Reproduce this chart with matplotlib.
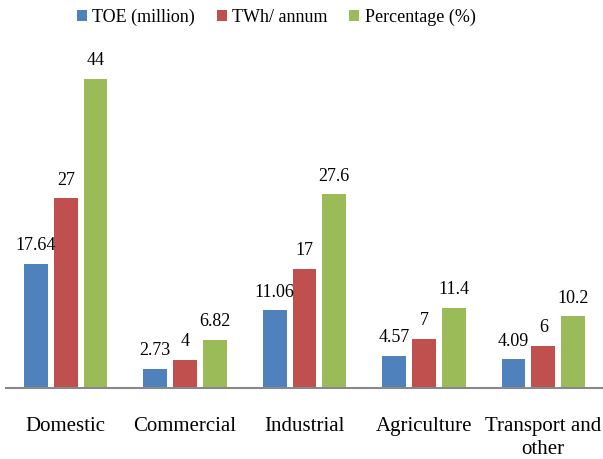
import numpy as np
import matplotlib
matplotlib.use("Agg")
import matplotlib.pyplot as plt

plt.rcParams["font.family"] = ["Liberation Serif", "DejaVu Serif"]

categories = ["Domestic", "Commercial", "Industrial", "Agriculture", "Transport and\nother"]
series = ["TOE (million)", "TWh/ annum", "Percentage (%)"]
toe = [17.64, 2.73, 11.06, 4.57, 4.09]
twh = [27, 4, 17, 7, 6]
pct = [44, 6.82, 27.6, 11.4, 10.2]
labels = [["17.64", "2.73", "11.06", "4.57", "4.09"],
          ["27", "4", "17", "7", "6"],
          ["44", "6.82", "27.6", "11.4", "10.2"]]
colors = ["#4F81BD", "#C0504D", "#9BBB59"]

fig = plt.figure(figsize=(6.03, 4.59), dpi=100)
ax = fig.add_axes([6/603, 71/459, 597/603, (388-37)/459])

x = np.arange(len(categories))
step, width = 0.25, 0.2
for i, (vals, name) in enumerate(zip([toe, twh, pct], series)):
    bars = ax.bar(x + (i - 1) * step, vals, width, color=colors[i], label=name)
    for b, lab in zip(bars, labels[i]):
        ax.annotate(lab, (b.get_x() + b.get_width()/2, b.get_height()),
                    xytext=(0, 7), textcoords="offset points",
                    ha="center", va="bottom", fontsize=13)

ax.set_xlim(-0.5, 4.5)
ax.set_ylim(0, 50)
ax.set_xticks(x)
ax.set_xticklabels(categories, fontsize=15, linespacing=1.25)
ax.tick_params(axis="x", length=0, pad=21)
ax.set_yticks([])
for s in ["top", "right", "left"]:
    ax.spines[s].set_visible(False)
ax.spines["bottom"].set_color("#888888")
ax.spines["bottom"].set_linewidth(1.5)

fig.legend(loc="upper center", bbox_to_anchor=(0.458, 1.017), ncol=3, frameon=False,
           prop={"family": "Liberation Serif", "size": 13},
           handlelength=0.55, handleheight=0.55, handletextpad=0.3,
           columnspacing=1.2)

fig.savefig("out.png", dpi=100)
